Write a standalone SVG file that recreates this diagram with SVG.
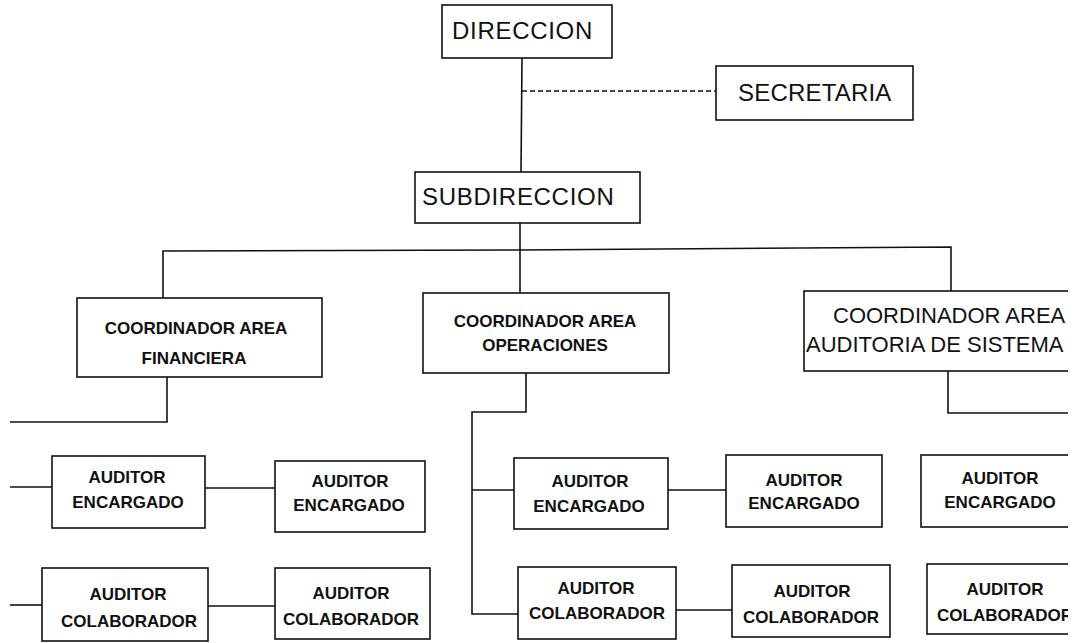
<svg xmlns="http://www.w3.org/2000/svg" width="1074" height="643" viewBox="0 0 1074 643">
<style>
.box{fill:#fff;stroke:#111;stroke-width:1.6}
.ln{fill:none;stroke:#111;stroke-width:1.6}
.dash{fill:none;stroke:#111;stroke-width:1.3;stroke-dasharray:5 3}
.big{font-family:"Liberation Sans",Arial,sans-serif;font-size:24px;fill:#111}
.mid{font-family:"Liberation Sans",Arial,sans-serif;font-size:22px;fill:#111}
.sm{font-family:"Liberation Sans",Arial,sans-serif;font-size:17px;font-weight:bold;fill:#111;text-anchor:middle}
</style>
<defs>
<clipPath id="page"><rect x="0" y="0" width="1068" height="643"/></clipPath>
</defs>
<rect x="0" y="0" width="1074" height="643" fill="#fff"/>
<g clip-path="url(#page)">
<g id="connectors">
<line class="ln" x1="522" y1="58" x2="521" y2="172"/>
<line class="dash" x1="522" y1="91" x2="716" y2="91"/>
<line class="ln" x1="520" y1="223" x2="520" y2="293"/>
<polyline class="ln" points="163,298 163,251 520,250 951,247 951,291"/>
<polyline class="ln" points="167,377 167,422 10,422"/>
<polyline class="ln" points="526,373 526,412 472,412 472,614 518,614"/>
<line class="ln" x1="472" y1="490" x2="514" y2="490"/>
<polyline class="ln" points="948,371 948,413 1068,413"/>
<line class="ln" x1="10" y1="487" x2="52" y2="487"/>
<line class="ln" x1="205" y1="488" x2="275" y2="488"/>
<line class="ln" x1="10" y1="605" x2="42" y2="605"/>
<line class="ln" x1="208" y1="606" x2="275" y2="606"/>
<line class="ln" x1="668" y1="490" x2="726" y2="490"/>
<line class="ln" x1="676" y1="610" x2="732" y2="610"/>
</g>
<g id="direccion">
<rect class="box" x="442" y="5" width="170" height="53"/>
<text class="big" x="452" y="39" letter-spacing="0.7">DIRECCION</text>
</g>
<g id="secretaria">
<rect class="box" x="716" y="66" width="197" height="54"/>
<text class="big" x="738" y="101" letter-spacing="0.2">SECRETARIA</text>
</g>
<g id="subdireccion">
<rect class="box" x="415" y="172" width="225" height="51"/>
<text class="big" x="422" y="205" letter-spacing="0.7">SUBDIRECCION</text>
</g>
<g id="coord-financiera">
<rect class="box" x="77" y="298" width="245" height="79"/>
<text class="sm" x="196" y="334" font-size="16.5">COORDINADOR AREA</text>
<text class="sm" x="194" y="364" font-size="17.5">FINANCIERA</text>
</g>
<g id="coord-operaciones">
<rect class="box" x="423" y="293" width="246" height="80"/>
<text class="sm" x="545" y="327">COORDINADOR AREA</text>
<text class="sm" x="545" y="351">OPERACIONES</text>
</g>
<g id="coord-sistemas">
<rect class="box" x="804" y="291" width="300" height="80"/>
<text class="mid" x="833" y="323">COORDINADOR AREA</text>
<text class="mid" x="806" y="352">AUDITORIA DE SISTEMA</text>
</g>
<g id="fin-encargado-1">
<rect class="box" x="52" y="456" width="153" height="72"/>
<text class="sm" x="127" y="483">AUDITOR</text>
<text class="sm" x="128" y="508">ENCARGADO</text>
</g>
<g id="fin-encargado-2">
<rect class="box" x="275" y="461" width="150" height="71"/>
<text class="sm" x="350" y="487">AUDITOR</text>
<text class="sm" x="349" y="511">ENCARGADO</text>
</g>
<g id="fin-colaborador-1">
<rect class="box" x="42" y="568" width="166" height="73"/>
<text class="sm" x="128" y="600">AUDITOR</text>
<text class="sm" x="129" y="627">COLABORADOR</text>
</g>
<g id="fin-colaborador-2">
<rect class="box" x="275" y="568" width="155" height="71"/>
<text class="sm" x="351" y="599">AUDITOR</text>
<text class="sm" x="351" y="625">COLABORADOR</text>
</g>
<g id="op-encargado-1">
<rect class="box" x="514" y="458" width="154" height="71"/>
<text class="sm" x="590" y="487">AUDITOR</text>
<text class="sm" x="589" y="512">ENCARGADO</text>
</g>
<g id="op-encargado-2">
<rect class="box" x="726" y="455" width="156" height="72"/>
<text class="sm" x="804" y="486">AUDITOR</text>
<text class="sm" x="804" y="509">ENCARGADO</text>
</g>
<g id="op-colaborador-1">
<rect class="box" x="518" y="567" width="158" height="72"/>
<text class="sm" x="596" y="594">AUDITOR</text>
<text class="sm" x="597" y="619">COLABORADOR</text>
</g>
<g id="op-colaborador-2">
<rect class="box" x="732" y="565" width="158" height="72"/>
<text class="sm" x="812" y="597">AUDITOR</text>
<text class="sm" x="811" y="623">COLABORADOR</text>
</g>
<g id="sis-encargado">
<rect class="box" x="921" y="455" width="160" height="72"/>
<text class="sm" x="1000" y="484">AUDITOR</text>
<text class="sm" x="1000" y="508">ENCARGADO</text>
</g>
<g id="sis-colaborador">
<rect class="box" x="927" y="564" width="160" height="70"/>
<text class="sm" x="1005" y="595">AUDITOR</text>
<text class="sm" x="1005" y="621">COLABORADOR</text>
</g>
</g>
</svg>
